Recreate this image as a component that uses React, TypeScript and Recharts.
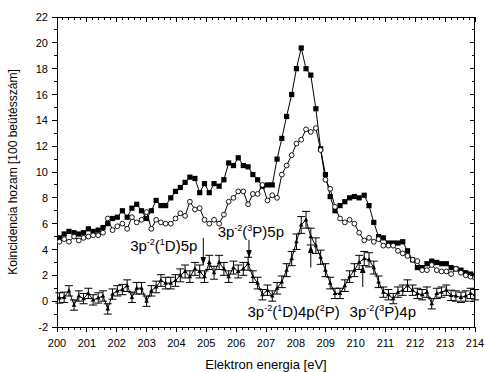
import React from "react";
import { LineChart, Line, XAxis, YAxis, ErrorBar, ReferenceLine, ReferenceDot } from "recharts";

// electron energy [eV], shared by all three curves
const energy = [
  200.08, 200.24, 200.4, 200.57, 200.73, 200.89, 201.05, 201.21, 201.38, 201.54,
  201.7, 201.86, 202.02, 202.19, 202.35, 202.51, 202.67, 202.83, 203.0, 203.16,
  203.32, 203.48, 203.64, 203.81, 203.97, 204.13, 204.29, 204.45, 204.62, 204.78,
  204.94, 205.1, 205.26, 205.43, 205.59, 205.75, 205.91, 206.07, 206.24, 206.4,
  206.56, 206.72, 206.88, 207.05, 207.21, 207.37, 207.53, 207.69, 207.86, 208.02,
  208.18, 208.34, 208.5, 208.67, 208.83, 208.99, 209.15, 209.31, 209.48, 209.64,
  209.8, 209.96, 210.12, 210.29, 210.45, 210.61, 210.77, 210.93, 211.1, 211.26,
  211.42, 211.58, 211.74, 211.91, 212.07, 212.23, 212.39, 212.55, 212.72, 212.88,
  213.04, 213.2, 213.36, 213.53, 213.69, 213.85, 214.0,
];

// filled squares
const totalCounts = [
  4.9, 5.2, 5.4, 5.3, 5.2, 5.3, 5.6, 5.4, 5.5, 5.7,
  6.0, 6.4, 6.5, 7.0, 6.5, 7.2, 7.5, 7.0, 6.4, 7.0,
  7.8, 7.4, 7.4, 8.0, 8.5, 8.8, 9.2, 9.6, 9.5, 8.4,
  9.1, 8.4, 9.1, 8.9, 9.4, 10.7, 10.5, 11.1, 10.5, 10.4,
  9.8, 9.4, 8.9, 9.0, 9.0, 11.0, 12.6, 14.3, 16.0, 18.0,
  19.6, 18.0, 17.5, 14.9, 11.8, 9.8, 8.1, 7.0, 7.4, 7.7,
  8.0, 8.1, 8.0, 8.2, 7.4, 6.1, 5.0, 4.9, 4.5, 4.5,
  4.5, 4.6, 3.9, 3.2, 2.6, 2.6, 2.9, 3.1, 3.0, 2.9,
  2.9, 2.6, 2.5, 2.4, 2.2, 2.1, 2.0,
];

// open circles
const randomCounts = [
  4.6, 4.8, 4.6, 5.0, 4.7, 4.9, 5.0, 5.1, 5.1, 5.3,
  6.4, 5.5, 5.8, 6.0, 5.6, 6.5, 6.1, 6.3, 6.9, 5.6,
  6.3, 6.1, 6.0, 6.0, 6.4, 6.8, 6.6, 7.7, 7.1, 7.2,
  6.3, 6.0, 6.3, 6.0, 6.7, 7.7, 8.0, 8.5, 8.5, 7.5,
  8.3, 8.3, 9.0, 7.8, 8.2, 8.0, 9.8, 10.5, 11.3, 12.2,
  12.5, 13.3, 13.1, 13.4, 11.7, 9.4, 8.7, 7.3, 6.4, 6.1,
  6.3, 6.0, 5.3, 4.7, 4.9, 4.6, 4.8, 4.3, 4.3, 4.3,
  3.9, 3.7, 3.5, 3.2, 3.1, 2.4, 2.4, 2.8, 2.4, 2.3,
  2.3, 2.1, 2.5, 2.2, 2.0, 1.9, 1.8,
];

// triangles with error bars
const trueCounts = [
  0.25, 0.3, 0.8, -0.3, 0.4, 0.2, 0.6, 0.1, 0.25, 0.4,
  -0.6, 0.55, 0.8, 0.9, 1.2, 0.3, 1.0, 1.0, 0.0, 0.8,
  1.1, 1.6, 1.4, 1.4, 1.6, 2.0, 2.3, 1.9, 2.5, 2.3,
  1.9, 3.0, 2.2, 3.0, 2.5, 1.9, 2.6, 2.3, 2.5, 2.9,
  1.9, 1.4, 0.5, 0.85, 0.4, 1.0, 1.5, 2.4, 3.3, 4.6,
  5.9, 6.3, 5.0, 4.3, 3.4, 2.4, 1.4, 0.6, 0.6, 1.2,
  1.9, 2.4, 3.0, 3.3, 3.2, 2.6, 1.5, 0.7, 0.5, 0.2,
  0.7, 0.85, 1.2, 0.85, 0.6, 0.5, 0.7, -0.2, 0.6, 0.7,
  0.85, 0.45, 0.4, 0.3, 0.4, 0.6, 0.5,
];

const trueErrors = [
  0.4, 0.4, 0.4, 0.4, 0.4, 0.4, 0.4, 0.4, 0.4, 0.4,
  0.4, 0.4, 0.4, 0.4, 0.45, 0.4, 0.45, 0.45, 0.4, 0.4,
  0.45, 0.45, 0.45, 0.45, 0.45, 0.5, 0.5, 0.45, 0.5, 0.5,
  0.45, 0.55, 0.5, 0.55, 0.5, 0.45, 0.5, 0.5, 0.5, 0.5,
  0.45, 0.45, 0.4, 0.4, 0.4, 0.45, 0.45, 0.5, 0.55, 0.6,
  0.65, 0.65, 0.65, 0.6, 0.55, 0.5, 0.45, 0.4, 0.4, 0.45,
  0.45, 0.5, 0.55, 0.55, 0.55, 0.5, 0.45, 0.4, 0.4, 0.4,
  0.4, 0.4, 0.45, 0.4, 0.4, 0.4, 0.4, 0.4, 0.4, 0.4,
  0.4, 0.4, 0.4, 0.4, 0.4, 0.4, 0.4,
];

const xMajorTicks = [200, 201, 202, 203, 204, 205, 206, 207, 208, 209, 210, 211, 212, 213, 214];
const yMajorTicks = [-2, 0, 2, 4, 6, 8, 10, 12, 14, 16, 18, 20, 22];

// peak labels: [text, superscript?]
const labels: { parts: [string, boolean][]; x: number; y: number }[] = [
  { parts: [["3p", false], ["-2", true], ["(", false], ["1", true], ["D)5p", false]], x: 202.45, y: 3.9 },
  { parts: [["3p", false], ["-2", true], ["(", false], ["3", true], ["P)5p", false]], x: 205.38, y: 5.0 },
  { parts: [["3p", false], ["-2", true], ["(", false], ["1", true], ["D)4p(", false], ["2", true], ["P)", false]], x: 206.38, y: -1.2 },
  { parts: [["3p", false], ["-2", true], ["(", false], ["3", true], ["P)4p", false]], x: 209.8, y: -1.2 },
];

// arrows: from -> tip
const arrows = [
  { x: 204.9, from: 4.9, to: 2.8 },
  { x: 206.43, from: 4.75, to: 3.35 },
  { x: 208.5, from: 2.6, to: 4.35 },
  { x: 210.24, from: 1.1, to: 2.8 },
];

const data = energy.map((e, i) => ({
  e,
  total: totalCounts[i],
  random: randomCounts[i],
  diff: trueCounts[i],
  err: trueErrors[i],
}));

const xTicks: number[] = [];
xMajorTicks.forEach((t, i) => {
  if (i === xMajorTicks.length - 1) {
    xTicks.push(t);
    return;
  }
  for (let k = 0; k < 5; k++) xTicks.push(+(t + k * 0.2).toFixed(1));
});
const yTicks: number[] = [];
for (let v = yMajorTicks[0]; v <= yMajorTicks[yMajorTicks.length - 1]; v++) yTicks.push(v);

const X_MIN = xMajorTicks[0];
const X_MAX = xMajorTicks[xMajorTicks.length - 1];
const Y_MIN = yMajorTicks[0];
const Y_MAX = yMajorTicks[yMajorTicks.length - 1];

const W = 485;
const H = 372;
const Y_AXIS_W = 57;
const X_AXIS_H = 45;
const MARGIN = { top: 17, right: 10, bottom: 0, left: 0 };
const PLOT_LEFT = MARGIN.left + Y_AXIS_W;
const PLOT_TOP = MARGIN.top;
const PLOT_RIGHT = W - MARGIN.right;
const PLOT_BOTTOM = H - MARGIN.bottom - X_AXIS_H;

const FONT = "'Liberation Sans', Arial, Helvetica, sans-serif";
const isMajorX = (v: number) => Math.abs(v - Math.round(v)) < 1e-6;
const isMajorY = (v: number) => Math.abs(v % 2) < 1e-6;

// bottom tick, plus its mirror hanging from the top edge
const BottomTick = ({ x, y, payload }: any) => {
  const major = isMajorX(payload.value);
  const len = major ? 5 : 3;
  return (
    <g>
      <line x1={x} y1={y} x2={x} y2={y + len} stroke="#000" shapeRendering="crispEdges" />
      <line x1={x} y1={PLOT_TOP} x2={x} y2={PLOT_TOP + len} stroke="#000" shapeRendering="crispEdges" />
      {major && (
        <text x={x} y={y + 20} textAnchor="middle" fontSize={11} fontFamily={FONT} fill="#000">
          {Math.round(payload.value)}
        </text>
      )}
    </g>
  );
};

// left tick, plus its mirror on the right edge
const LeftTick = ({ x, y, payload }: any) => {
  const major = isMajorY(payload.value);
  const len = major ? 5 : 3;
  return (
    <g>
      <line x1={x} y1={y} x2={x - len} y2={y} stroke="#000" shapeRendering="crispEdges" />
      <line x1={PLOT_RIGHT} y1={y} x2={PLOT_RIGHT - len} y2={y} stroke="#000" shapeRendering="crispEdges" />
      {major && (
        <text x={x - 9} y={y + 4} textAnchor="end" fontSize={11} fontFamily={FONT} fill="#000">
          {payload.value}
        </text>
      )}
    </g>
  );
};

const XTitle = ({ viewBox }: any) => (
  <text
    x={viewBox.x + viewBox.width / 2}
    y={viewBox.y + viewBox.height - 3}
    textAnchor="middle"
    fontSize={13}
    fontFamily={FONT}
    fill="#000"
  >
    Elektron energia [eV]
  </text>
);

const YTitle = ({ viewBox }: any) => {
  const cy = viewBox.y + viewBox.height / 2;
  return (
    <text
      x={17}
      y={cy}
      transform={`rotate(-90 17 ${cy})`}
      textAnchor="middle"
      fontSize={12}
      fontFamily={FONT}
      fill="#000"
    >
      Koincidencia hozam [100 beütésszám]
    </text>
  );
};

const squareDot = (p: any) => (
  <rect key={`s${p.index}`} x={p.cx - 2.6} y={p.cy - 2.6} width={5.2} height={5.2} fill="#000" />
);

const triangleDot = (p: any) => (
  <polygon
    key={`t${p.index}`}
    points={`${p.cx},${p.cy - 2.6} ${p.cx - 2.3},${p.cy + 1.6} ${p.cx + 2.3},${p.cy + 1.6}`}
    fill="#000"
  />
);

const labelShape = (parts: [string, boolean][]) => (p: any) => (
  <text x={p.cx} y={p.cy} fontSize={15} fontFamily={FONT} fill="#000">
    {parts.map(([t, sup], i) => {
      const prevSup = i > 0 && parts[i - 1][1];
      const dy = sup ? -6 : prevSup ? 6 : 0;
      return (
        <tspan key={i} dy={dy} fontSize={sup ? 9 : 15}>
          {t}
        </tspan>
      );
    })}
  </text>
);

const arrowHead = (up: boolean) => (p: any) => {
  const s = up ? 1 : -1;
  return (
    <polygon
      points={`${p.cx},${p.cy} ${p.cx - 2.8},${p.cy + s * 8} ${p.cx + 2.8},${p.cy + s * 8}`}
      fill="#000"
    />
  );
};

export default function App() {
  return (
    <div style={{ position: "absolute", left: 0, top: 0, width: W, height: H }}>
      <LineChart width={W} height={H} data={data} margin={MARGIN}>
        <XAxis
          dataKey="e"
          type="number"
          domain={[X_MIN, X_MAX]}
          allowDataOverflow
          ticks={xTicks}
          interval={0}
          tickSize={0}
          tickMargin={0}
          tickLine={false}
          tick={BottomTick}
          height={X_AXIS_H}
          axisLine={{ stroke: "#000", shapeRendering: "crispEdges" }}
          label={XTitle}
        />
        <YAxis
          type="number"
          domain={[Y_MIN, Y_MAX]}
          allowDataOverflow
          ticks={yTicks}
          interval={0}
          tickSize={0}
          tickMargin={0}
          tickLine={false}
          tick={LeftTick}
          width={Y_AXIS_W}
          axisLine={{ stroke: "#000", shapeRendering: "crispEdges" }}
          label={YTitle}
        />

        <Line
          dataKey="total"
          stroke="#000"
          strokeWidth={1}
          dot={squareDot}
          activeDot={false}
          isAnimationActive={false}
        />
        <Line
          dataKey="random"
          stroke="#000"
          strokeWidth={1}
          dot={{ r: 2.4, fill: "#fff", stroke: "#000", strokeWidth: 0.9 }}
          activeDot={false}
          isAnimationActive={false}
        />
        <Line
          dataKey="diff"
          stroke="#000"
          strokeWidth={1}
          dot={triangleDot}
          activeDot={false}
          isAnimationActive={false}
        >
          <ErrorBar dataKey="err" direction="y" width={4} stroke="#000" strokeWidth={1} isAnimationActive={false} />
        </Line>

        {arrows.map((a, i) => (
          <ReferenceLine
            key={`al${i}`}
            segment={[
              { x: a.x, y: a.from },
              { x: a.x, y: a.to },
            ]}
            stroke="#000"
            strokeWidth={1}
          />
        ))}
        {arrows.map((a, i) => (
          <ReferenceDot key={`ah${i}`} x={a.x} y={a.to} r={1} shape={arrowHead(a.to > a.from)} />
        ))}
        {labels.map((l, i) => (
          <ReferenceDot key={`lb${i}`} x={l.x} y={l.y} r={1} shape={labelShape(l.parts)} />
        ))}
      </LineChart>
      {/* top and right edges of the plot box */}
      <div
        style={{
          position: "absolute",
          left: PLOT_LEFT,
          top: PLOT_TOP,
          width: PLOT_RIGHT - PLOT_LEFT,
          height: PLOT_BOTTOM - PLOT_TOP,
          borderTop: "1px solid #000",
          borderRight: "1px solid #000",
          boxSizing: "border-box",
          pointerEvents: "none",
        }}
      />
    </div>
  );
}
